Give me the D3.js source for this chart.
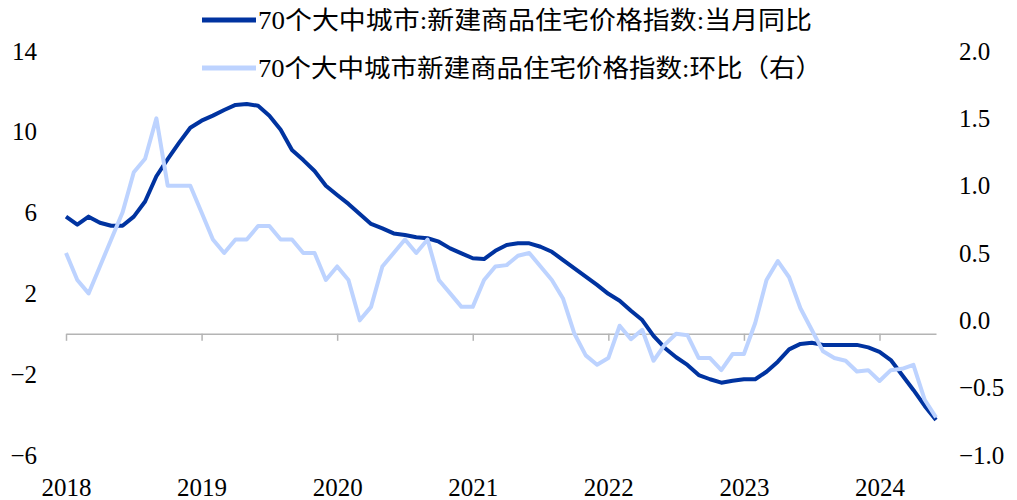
<!DOCTYPE html>
<html lang="zh">
<head>
<meta charset="utf-8">
<title>70个大中城市新建商品住宅价格指数</title>
<style>
    body { margin: 0; background: #fff; }
    svg { display: block; }
    text { font-family: "Liberation Serif", "Noto Sans CJK SC", serif; fill: #000; }
    .axis path, .axis line { stroke: #b4b4b4; stroke-width: 1.5px; }
    .axis text { font-size: 25px; }
</style>
</head>
<body>
<svg id="chart" width="1017" height="500"></svg>
<script src="https://d3js.org/d3.v7.min.js"></script>
<script>
    // monthly, 2018-01 .. 2024-06
    const yoy = [5.8, 5.4, 5.8, 5.5, 5.35, 5.35, 5.8, 6.55, 7.8, 8.65, 9.45, 10.2,
        10.55, 10.8, 11.08, 11.33, 11.38, 11.29, 10.8, 10.1, 9.1, 8.6, 8.06, 7.33,
        6.87, 6.43, 5.93, 5.44, 5.22, 4.97, 4.89, 4.78, 4.73, 4.56, 4.23, 3.98,
        3.74, 3.7, 4.11, 4.4, 4.48, 4.48, 4.31, 4.06, 3.65, 3.24, 2.83, 2.42,
        1.98, 1.64, 1.14, 0.68, -0.1, -0.7, -1.16, -1.54, -2.04, -2.25, -2.42, -2.32,
        -2.25, -2.25, -1.88, -1.38, -0.77, -0.5, -0.44, -0.55, -0.55, -0.55, -0.55, -0.67,
        -0.89, -1.3, -2.04, -2.78, -3.57, -4.27];
    const mom = [0.5, 0.3, 0.2, 0.4, 0.6, 0.8, 1.1, 1.2, 1.5, 1.0, 1.0, 1.0,
        0.8, 0.6, 0.5, 0.6, 0.6, 0.7, 0.7, 0.6, 0.6, 0.5, 0.5, 0.3,
        0.4, 0.3, 0.0, 0.1, 0.4, 0.5, 0.6, 0.5, 0.6, 0.3, 0.2, 0.1,
        0.1, 0.3, 0.4, 0.41, 0.48, 0.5, 0.4, 0.3, 0.16, -0.1, -0.26, -0.33,
        -0.28, -0.04, -0.14, -0.07, -0.3, -0.18, -0.1, -0.11, -0.28, -0.28, -0.37, -0.25,
        -0.25, -0.02, 0.3, 0.44, 0.32, 0.09, -0.07, -0.23, -0.28, -0.3, -0.38, -0.37,
        -0.45, -0.37, -0.36, -0.33, -0.59, -0.72];
    const years = ["2018", "2019", "2020", "2021", "2022", "2023", "2024"];
    const leftTicks = [14, 10, 6, 2, -2, -6];
    const rightTicks = [2.0, 1.5, 1.0, 0.5, 0.0, -0.5, -1.0];
    const seriesNames = ["70个大中城市:新建商品住宅价格指数:当月同比", "70个大中城市新建商品住宅价格指数:环比（右）"];
    const colors = ["#0033a0", "#bdd3ff"];

    const months = [];
    years.forEach(y => d3.range(1, 13).forEach(m => months.push(y + "-" + String(m).padStart(2, "0"))));
    months.length = yoy.length;

    const svg = d3.select("#chart");
    const x = d3.scalePoint().domain(months).range([66, 936]);
    const yL = d3.scaleLinear().domain([-6, 14]).range([455, 51]);
    const yR = d3.scaleLinear().domain([-1, 2]).range([455, 51]);

    // x axis on the left zero line
    const xAxis = svg.append("g").attr("class", "axis")
        .attr("transform", `translate(0,${yL(0)})`)
        .call(d3.axisBottom(x).tickValues(years.map(y => y + "-01"))
            .tickFormat(d => d.slice(0, 4)).tickSize(7).tickSizeOuter(0));
    xAxis.selectAll("text").attr("y", 0)
        .attr("transform", d => `translate(0,${487 - yL(0)})`)
        .attr("dy", "0.35em");

    const lAxis = svg.append("g").attr("class", "axis")
        .attr("transform", "translate(37,0)")
        .call(d3.axisLeft(yL).tickValues(leftTicks).tickSize(0).tickPadding(0));
    lAxis.select(".domain").remove();

    const rAxis = svg.append("g").attr("class", "axis")
        .attr("transform", "translate(959,0)")
        .call(d3.axisRight(yR).tickValues(rightTicks).tickFormat(d3.format(".1f")).tickSize(0).tickPadding(0));
    rAxis.select(".domain").remove();
    svg.selectAll(".axis text").style("font-family", "'Liberation Serif', serif");

    const lineL = d3.line().x((d, i) => x(months[i])).y(d => yL(d));
    const lineR = d3.line().x((d, i) => x(months[i])).y(d => yR(d));

    svg.append("path").datum(yoy).attr("d", lineL)
        .attr("fill", "none").attr("stroke", colors[0]).attr("stroke-width", 4).attr("stroke-linejoin", "round");
    svg.append("path").datum(mom).attr("d", lineR)
        .attr("fill", "none").attr("stroke", colors[1]).attr("stroke-width", 4).attr("stroke-linejoin", "round");

    // legend
    const legend = svg.append("g");
    const legendW = [554, 564];
    seriesNames.forEach((name, i) => {
        const cy = 20 + i * 48;
        legend.append("line").attr("x1", 202).attr("x2", 256).attr("y1", cy).attr("y2", cy)
            .attr("stroke", colors[i]).attr("stroke-width", 5);
        legend.append("text").attr("x", 258).attr("y", cy).attr("dy", "0.36em")
            .attr("font-size", 25).attr("textLength", legendW[i]).attr("lengthAdjust", "spacingAndGlyphs")
            .text(name);
    });
</script>
</body>
</html>
